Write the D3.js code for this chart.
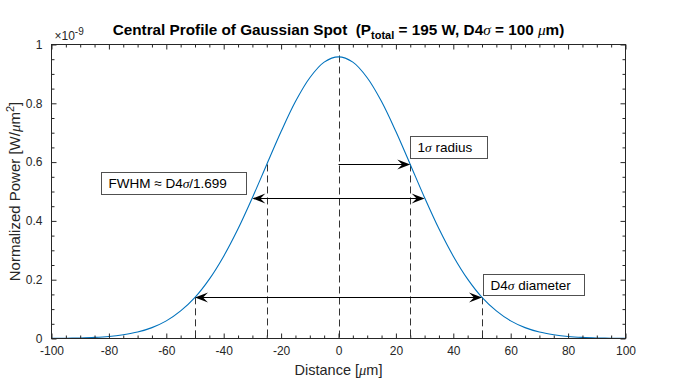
<!DOCTYPE html>
<html><head><meta charset="utf-8">
<script src="https://cdn.jsdelivr.net/npm/d3@7"></script>
<style>body{margin:0;background:#fff}svg{display:block;font-family:"Liberation Sans",Arial,Helvetica,sans-serif}text{white-space:pre}</style>
</head><body><svg id="c" width="690" height="378"></svg>
<script>
// ---- data (power in units of 1e-9 W/um^2) ----
const distance = [-100,-95,-90,-85,-80,-75,-70,-65,-60,-55,-50,-45,-40,-35,-30,-25,-20,-15,-10,-5,0,5,10,15,20,25,30,35,40,45,50,55,60,65,70,75,80,85,90,95,100];
const power = [0.0004,0.0009,0.0019,0.0037,0.007,0.013,0.022,0.037,0.060,0.094,0.140,0.202,0.280,0.373,0.479,0.592,0.704,0.806,0.887,0.940,0.958,0.940,0.887,0.806,0.704,0.592,0.479,0.373,0.280,0.202,0.140,0.094,0.060,0.037,0.022,0.013,0.007,0.0037,0.0019,0.0009,0.0004];
const xTicks = [-100,-80,-60,-40,-20,0,20,40,60,80,100];
const xTickLabels = ["-100","-80","-60","-40","-20","0","20","40","60","80","100"];
const yTicks = [0,0.2,0.4,0.6,0.8,1];
const yTickLabels = ["0","0.2","0.4","0.6","0.8","1"];
const markerX = [-50,-25,0,25,50];
const markerTop = [0.140,0.592,1,0.592,0.140];
// arrows
const arrowFrom = [0, -30, -50];
const arrowTo = [25, 30, 50];
const arrowY = [0.592, 0.479, 0.140];
const arrowBoth = [false, true, true];
// label boxes (data-space corners)
const labelText = ["1σ radius", "FWHM ≈ D4σ/1.699", "D4σ diameter"];
const boxX0 = [25, -82.6, 50.2];
const boxX1 = [51.8, -32, 85.4];
const boxY0 = [0.688, 0.567, 0.220];
const boxY1 = [0.612, 0.493, 0.149];

const svg = d3.select("#c");
const L = 51.5, R = 625.5, T = 44.5, B = 338.5;
const x = d3.scaleLinear().domain([-100,100]).range([L,R]);
const y = d3.scaleLinear().domain([0,1]).range([B,T]);
const axisCol = "#262626";
const serif = "'Liberation Serif','DejaVu Serif',serif";

svg.append("rect").attr("width",690).attr("height",378).attr("fill","#fff");

// dashed markers
svg.append("g").selectAll("line").data(markerX).join("line")
  .attr("x1",(d)=>Math.round(x(d))+0.5).attr("x2",(d)=>Math.round(x(d))+0.5)
  .attr("y1",(d,i)=>y(markerTop[i])).attr("y2",y(0))
  .attr("stroke","#333").attr("stroke-width",1).attr("stroke-dasharray","7,4");

// curve
const pts = distance.map((d,i)=>[d,power[i]]);
svg.append("path").datum(pts)
  .attr("d", d3.line().x(d=>x(d[0])).y(d=>y(d[1])).curve(d3.curveCatmullRom))
  .attr("fill","none").attr("stroke","#0072BD").attr("stroke-width",1.1);

// axes
const xMinor = d3.range(-100,100.1,5).filter(v=>v%20!==0);
const yMinor = d3.range(0,1.0001,0.05).filter(v=>Math.abs(v*5-Math.round(v*5))>1e-6);
function ax(gen, scale, vals, size, fmt, pad){
  return gen(scale).tickValues(vals).tickFormat(fmt).tickSizeInner(-size).tickSizeOuter(0).tickPadding(pad);
}
const gx = svg.append("g").attr("transform",`translate(0,${B})`);
gx.append("g").call(ax(d3.axisBottom,x,xMinor,3,"",0));
gx.append("g").call(ax(d3.axisBottom,x,xTicks,5,(d,i)=>xTickLabels[i],8));
const gxt = svg.append("g").attr("transform",`translate(0,${T})`);
gxt.append("g").call(ax(d3.axisTop,x,xMinor,3,"",0));
gxt.append("g").call(ax(d3.axisTop,x,xTicks,5,"",0));
const gy = svg.append("g").attr("transform",`translate(${L},0)`);
gy.append("g").call(ax(d3.axisLeft,y,yMinor,3,"",0));
gy.append("g").call(ax(d3.axisLeft,y,yTicks,5,(d,i)=>yTickLabels[i],9));
const gyr = svg.append("g").attr("transform",`translate(${R},0)`);
gyr.append("g").call(ax(d3.axisRight,y,yMinor,3,"",0));
gyr.append("g").call(ax(d3.axisRight,y,yTicks,5,"",0));
svg.selectAll(".domain").remove();
svg.selectAll(".tick line").attr("stroke",axisCol);
svg.selectAll(".tick text").attr("fill",axisCol).attr("font-size","12px").attr("font-family","'Liberation Sans',Arial,sans-serif");
svg.append("rect").attr("x",L).attr("y",T).attr("width",R-L).attr("height",B-T)
  .attr("fill","none").attr("stroke",axisCol).attr("stroke-width",1);

// exponent label
const ex = svg.append("text").attr("x",L+3).attr("y",T-5).attr("fill",axisCol).attr("font-size","12px");
ex.append("tspan").text("×10");
ex.append("tspan").attr("dy",-5).attr("font-size","10px").text("-9");

// arrows
function head(tx,ty,dir){
  const l=13, w=5, n=8;
  return `M${tx},${ty} L${tx-dir*l},${ty-w} L${tx-dir*n},${ty} L${tx-dir*l},${ty+w} Z`;
}
arrowFrom.forEach((x0,i)=>{
  const xa=x(x0), xb=x(arrowTo[i]), yy=Math.round(y(arrowY[i]))+0.5;
  svg.append("line").attr("x1",xa+(arrowBoth[i]?4:0)).attr("x2",xb-4).attr("y1",yy).attr("y2",yy)
    .attr("stroke","#000").attr("stroke-width",1);
  svg.append("path").attr("d",head(xb,yy,1)).attr("fill","#000");
  if(arrowBoth[i]) svg.append("path").attr("d",head(xa,yy,-1)).attr("fill","#000");
});

// label boxes
labelText.forEach((t,i)=>{
  const bx=Math.round(x(boxX0[i]))+0.5, by=Math.round(y(boxY0[i]))+0.5;
  const bw=Math.round(x(boxX1[i])-x(boxX0[i])), bh=Math.round(y(boxY1[i])-y(boxY0[i]));
  svg.append("rect").attr("x",bx).attr("y",by).attr("width",bw).attr("height",bh)
    .attr("fill","#fff").attr("stroke","#505050").attr("stroke-width",1);
  const tx = svg.append("text").attr("x",bx+7).attr("y",by+bh/2+4.8).attr("font-size","13.5px").attr("fill","#000");
  t.split(/(σ)/).forEach(part=>{
    if(!part) return;
    const s=tx.append("tspan").text(part);
    if(part==="σ") s.attr("font-style","italic").attr("font-family",serif);
  });
});

// title
const title = svg.append("text").attr("x",(L+R)/2).attr("y",35).attr("text-anchor","middle")
  .attr("font-weight","bold").attr("font-size","15.3px").attr("fill","#000");
title.append("tspan").text("Central Profile of Gaussian Spot  (P");
title.append("tspan").attr("dy",4).attr("font-size","11px").text("total");
title.append("tspan").attr("dy",-4).text(" = 195 W, D4");
title.append("tspan").attr("font-style","italic").attr("font-weight","normal").attr("font-family",serif).text("σ");
title.append("tspan").text(" = 100 ");
title.append("tspan").attr("font-style","italic").attr("font-weight","normal").attr("font-family",serif).text("μ");
title.append("tspan").text("m)");

// x label
const xl = svg.append("text").attr("x",(L+R)/2).attr("y",375).attr("text-anchor","middle").attr("font-size","14.5px").attr("fill",axisCol);
xl.append("tspan").text("Distance [");
xl.append("tspan").attr("font-style","italic").attr("font-family",serif).text("μ");
xl.append("tspan").text("m]");

// y label
const yl = svg.append("text").attr("transform",`translate(20,${(T+B)/2}) rotate(-90)`).attr("text-anchor","middle").attr("font-size","15px").attr("fill",axisCol);
yl.append("tspan").text("Normalized Power [W/");
yl.append("tspan").attr("font-style","italic").attr("font-family",serif).text("μ");
yl.append("tspan").text("m");
yl.append("tspan").attr("dy",-6).attr("font-size","11px").text("2");
yl.append("tspan").attr("dy",6).text("]");
</script></body></html>
